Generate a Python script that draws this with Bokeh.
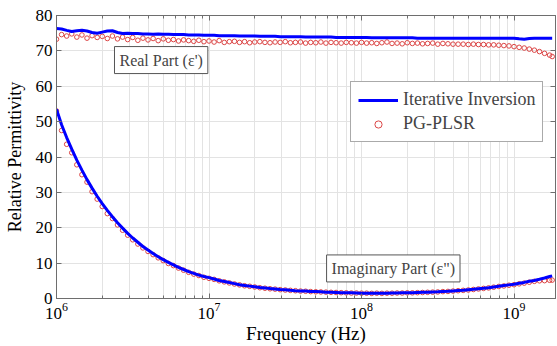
from bokeh.plotting import figure
from bokeh.models import (Range1d, FixedTicker, LogAxis, LinearAxis, Legend, LegendItem,
                          Label, ColumnDataSource)
from bokeh.embed import file_html
from bokeh.resources import INLINE

# ---------------- data ----------------
freq_mhz = [1.000, 1.080, 1.166, 1.259, 1.359, 1.468, 1.585, 1.711, 1.848, 1.995,
            2.154, 2.326, 2.512, 2.712, 2.929, 3.162, 3.415, 3.687, 3.981, 4.299,
            4.642, 5.012, 5.412, 5.843, 6.310, 6.813, 7.356, 7.943, 8.577, 9.261,
            10.00, 10.80, 11.66, 12.59, 13.59, 14.68, 15.85, 17.11, 18.48, 19.95,
            21.54, 23.26, 25.12, 27.12, 29.29, 31.62, 34.15, 36.87, 39.81, 42.99,
            46.42, 50.12, 54.12, 58.43, 63.10, 68.13, 73.56, 79.43, 85.77, 92.61,
            100.0, 108.0, 116.6, 125.9, 135.9, 146.8, 158.5, 171.1, 184.8, 199.5,
            215.4, 232.6, 251.2, 271.2, 292.9, 316.2, 341.5, 368.7, 398.1, 429.9,
            464.2, 501.2, 541.2, 584.3, 631.0, 681.3, 735.6, 794.3, 857.7, 926.1,
            1000, 1080, 1166, 1259, 1359, 1468, 1585, 1711, 1778]

iter_real = [76.3, 76.2, 75.8, 75.5, 75.7, 75.8, 75.6, 75.2, 75.0, 75.3,
             75.6, 75.7, 75.2, 74.9, 75.0, 74.9, 74.9, 74.8, 74.8, 74.7,
             74.8, 74.7, 74.7, 74.6, 74.6, 74.6, 74.5, 74.5, 74.5, 74.4,
             74.4, 74.4, 74.3, 74.3, 74.3, 74.3, 74.2, 74.2, 74.2, 74.2,
             74.1, 74.1, 74.1, 74.1, 74.0, 74.0, 74.0, 74.0, 74.0, 73.9,
             73.9, 73.9, 73.9, 73.9, 73.9, 73.8, 73.8, 73.8, 73.8, 73.8,
             73.8, 73.8, 73.7, 73.7, 73.7, 73.7, 73.7, 73.7, 73.7, 73.7,
             73.7, 73.6, 73.6, 73.6, 73.6, 73.6, 73.6, 73.6, 73.6, 73.6,
             73.6, 73.6, 73.6, 73.6, 73.6, 73.6, 73.6, 73.6, 73.6, 73.6,
             73.6, 73.4, 73.3, 73.5, 73.6, 73.6, 73.6, 73.6, 73.6]

plsr_real = [73.3, 74.6, 74.2, 74.8, 73.9, 74.5, 73.6, 74.3, 73.8, 74.1,
             73.5, 74.2, 73.4, 73.9, 73.2, 73.8, 73.0, 73.6, 73.1, 73.5,
             72.9, 73.4, 73.0, 73.2, 72.8, 73.1, 72.9, 72.7, 73.0, 72.6,
             72.8, 72.5, 72.9, 72.4, 72.6, 72.7, 72.4, 72.6, 72.3, 72.5,
             72.6, 72.4, 72.3, 72.5, 72.4, 72.6, 72.3, 72.4, 72.5, 72.2,
             72.4, 72.3, 72.5, 72.2, 72.4, 72.3, 72.2, 72.4, 72.3, 72.2,
             72.4, 72.2, 72.3, 72.1, 72.3, 72.5, 72.1, 72.2, 72.0, 72.3,
             72.1, 72.2, 72.0, 72.1, 72.2, 71.9, 72.1, 72.0, 71.9, 71.9,
             71.9, 71.8, 71.9, 71.8, 71.8, 71.7, 71.7, 71.6, 71.5, 71.4,
             71.2, 71.0, 70.8, 70.5, 70.2, 69.8, 69.3, 68.8, 68.4]

iter_imag = [53.5, 49.1, 45.5, 42.2, 39.1, 36.3, 33.6, 31.2, 28.9, 26.8,
             24.9, 23.1, 21.4, 19.9, 18.4, 17.1, 15.9, 14.7, 13.7, 12.7,
             11.8, 11.0, 10.2, 9.5, 8.8, 8.2, 7.6, 7.1, 6.6, 6.2,
             5.9, 5.5, 5.1, 4.8, 4.5, 4.2, 3.9, 3.7, 3.5, 3.3,
             3.1, 3.0, 2.8, 2.7, 2.55, 2.45, 2.3, 2.2, 2.15, 2.1,
             2.0, 1.95, 1.9, 1.8, 1.75, 1.7, 1.65, 1.6, 1.6, 1.55,
             1.5, 1.5, 1.5, 1.5, 1.5, 1.5, 1.55, 1.55, 1.6, 1.6,
             1.65, 1.7, 1.75, 1.8, 1.85, 1.9, 2.0, 2.05, 2.15, 2.25,
             2.35, 2.5, 2.6, 2.75, 2.9, 3.05, 3.25, 3.45, 3.65, 3.85,
             4.05, 4.3, 4.55, 4.85, 5.1, 5.45, 5.8, 6.2, 6.4]

plsr_imag = [53.0, 47.5, 43.6, 41.2, 37.8, 35.0, 32.9, 30.2, 28.1, 26.0,
             24.0, 22.6, 20.8, 19.3, 17.9, 16.6, 15.4, 14.3, 13.3, 12.4,
             11.5, 10.7, 9.9, 9.3, 8.6, 8.0, 7.4, 6.9, 6.5, 6.0,
             5.7, 5.4, 5.0, 4.7, 4.4, 4.1, 3.85, 3.6, 3.45, 3.25,
             3.05, 2.9, 2.75, 2.65, 2.5, 2.4, 2.3, 2.2, 2.1, 2.05,
             1.95, 1.9, 1.85, 1.8, 1.75, 1.7, 1.65, 1.6, 1.55, 1.55,
             1.5, 1.5, 1.45, 1.5, 1.45, 1.5, 1.5, 1.55, 1.55, 1.6,
             1.6, 1.65, 1.7, 1.75, 1.8, 1.85, 1.95, 2.0, 2.1, 2.2,
             2.3, 2.4, 2.55, 2.7, 2.85, 3.0, 3.2, 3.4, 3.55, 3.75,
             3.9, 4.15, 4.35, 4.6, 4.85, 5.0, 5.05, 5.15, 5.2]

decades = [1e6, 1e7, 1e8, 1e9]
minor_mantissas = [2, 3, 4, 5, 6, 7, 8, 9]
y_ticks = [0, 10, 20, 30, 40, 50, 60, 70, 80]

series_names = ["Iterative Inversion", "PG-PLSR"]
real_label = "Real Part (\u03b5')"
imag_label = 'Imaginary Part (\u03b5")'

# ---------------- styles ----------------
FONT = "Liberation Serif"
BLUE = "#0000ff"
RED = "#dc4646"
GRID = "#e3e3e3"
AXIS = "#6e6e6e"

freq_hz = [f * 1e6 for f in freq_mhz]
src = ColumnDataSource(dict(f=freq_hz, ir=iter_real, pr=plsr_real, ii=iter_imag, pi=plsr_imag))

p = figure(width=557, height=346, x_axis_type="log",
           x_range=Range1d(1e6, 1.87e9), y_range=Range1d(0, 80),
           output_backend="svg", toolbar_location=None,
           min_border_left=56, min_border_right=2, min_border_top=15, min_border_bottom=0)

minor = [d * m for d in decades for m in minor_mantissas]
xticker = FixedTicker(ticks=decades, minor_ticks=minor)
yticker = FixedTicker(ticks=y_ticks)

# data renderers (PLSR circles under the line)
r_pr = p.scatter("f", "pr", source=src, marker="circle", size=4.6, fill_color=None,
                 line_color=RED, line_width=1)
r_pi = p.scatter("f", "pi", source=src, marker="circle", size=4.6, fill_color=None,
                 line_color=RED, line_width=1)
r_ir = p.line("f", "ir", source=src, line_color=BLUE, line_width=3)
r_ii = p.line("f", "ii", source=src, line_color=BLUE, line_width=3)

# axes
xa = p.xaxis[0]
xa.ticker = xticker
ya = p.yaxis[0]
ya.ticker = yticker
for ax in (xa, ya):
    ax.major_tick_in = 5
    ax.major_tick_out = 0
    ax.minor_tick_in = 3
    ax.minor_tick_out = 0
    ax.axis_line_color = AXIS
    ax.major_tick_line_color = AXIS
    ax.minor_tick_line_color = AXIS
    ax.major_label_text_font = FONT
    ax.major_label_text_font_size = "17px"
    ax.major_label_text_color = "black"
    ax.axis_label_text_font = FONT
    ax.axis_label_text_font_style = "normal"
    ax.axis_label_text_color = "black"
ya.minor_tick_line_color = None
xa.axis_label = "Frequency (Hz)"
xa.axis_label_text_font_size = "19px"
xa.axis_label_standoff = 1
xa.major_label_standoff = 4
ya.axis_label = "Relative Permittivity"
ya.axis_label_text_font_size = "18px"
ya.axis_label_standoff = 8
ya.major_label_standoff = 4

top = LogAxis(ticker=xticker, major_tick_in=5, major_tick_out=0, minor_tick_in=3, minor_tick_out=0,
              axis_line_color=AXIS, major_tick_line_color=AXIS, minor_tick_line_color=AXIS,
              major_label_text_font_size="1px", major_label_text_alpha=0, major_label_standoff=0)
right = LinearAxis(ticker=yticker, major_tick_in=5, major_tick_out=0, minor_tick_line_color=None,
                   axis_line_color=AXIS, major_tick_line_color=AXIS,
                   major_label_text_font_size="1px", major_label_text_alpha=0, major_label_standoff=0)
p.add_layout(top, "above")
p.add_layout(right, "right")

# grid
p.xgrid.ticker = xticker
p.ygrid.ticker = yticker
p.xgrid.grid_line_color = GRID
p.xgrid.minor_grid_line_color = GRID
p.ygrid.grid_line_color = GRID
p.outline_line_color = AXIS

# legend
legend = Legend(items=[LegendItem(label=series_names[0], renderers=[r_ir]),
                       LegendItem(label=series_names[1], renderers=[r_pr])],
                location=(294, 156), glyph_width=40, glyph_height=18,
                label_text_font=FONT, label_text_font_size="18px",
                border_line_color="#555555", border_line_width=1,
                padding=7, spacing=3, margin=0, label_standoff=5,
                background_fill_alpha=1)
p.add_layout(legend, "center")

# annotation boxes
lab_style = dict(text_font=FONT, text_font_size="16px", text_baseline="middle",
                 background_fill_color="white", border_line_color="#555555",
                 border_line_width=1, padding=5)
p.add_layout(Label(x=2.4e6, y=67.4, text=real_label, **lab_style))
p.add_layout(Label(x=5.9e7, y=8.5, text=imag_label, **lab_style))

open("out.html", "w").write(file_html(p, INLINE))
